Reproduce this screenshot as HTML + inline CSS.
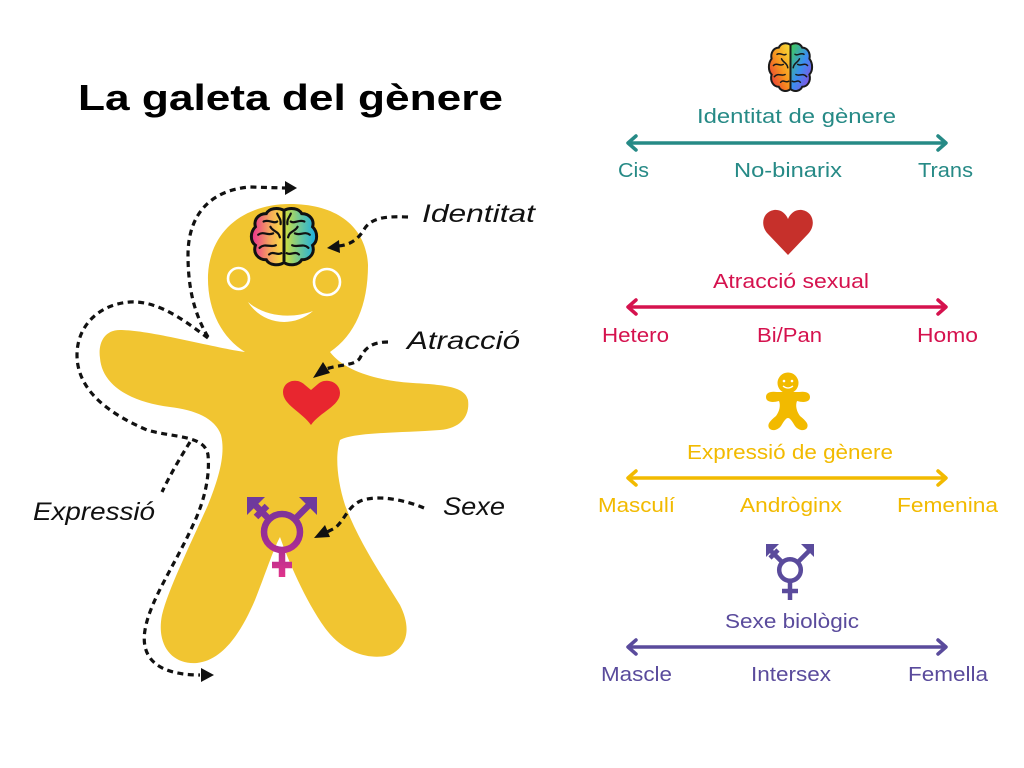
<!DOCTYPE html>
<html><head><meta charset="utf-8"><style>
html,body{margin:0;padding:0;background:#fff;}
svg{display:block;}
text{font-family:"Liberation Sans",sans-serif;}
</style></head><body>
<svg width="1024" height="768" viewBox="0 0 1024 768" xmlns="http://www.w3.org/2000/svg">
<defs>
<linearGradient id="bl" x1="0" y1="0" x2="1" y2="0"><stop offset="0" stop-color="#e92d90"/><stop offset="0.55" stop-color="#f5a45e"/><stop offset="1" stop-color="#f8e43e"/></linearGradient>
<linearGradient id="br" x1="0" y1="0" x2="1" y2="0"><stop offset="0" stop-color="#d2e03c"/><stop offset="0.5" stop-color="#6cc79a"/><stop offset="1" stop-color="#17aee6"/></linearGradient>
<linearGradient id="sl" x1="1" y1="0" x2="0" y2="1"><stop offset="0" stop-color="#f9e33a"/><stop offset="0.5" stop-color="#f7921e"/><stop offset="1" stop-color="#e5203f"/></linearGradient>
<linearGradient id="sr" x1="0" y1="0" x2="1" y2="1"><stop offset="0" stop-color="#3fcf4c"/><stop offset="0.5" stop-color="#3a8ff0"/><stop offset="1" stop-color="#a53ae0"/></linearGradient>
<linearGradient id="tg" gradientUnits="userSpaceOnUse" x1="0" y1="497" x2="0" y2="578"><stop offset="0" stop-color="#6e3a9c"/><stop offset="0.5" stop-color="#9a2c96"/><stop offset="1" stop-color="#e2348a"/></linearGradient>
</defs>

<!-- Title -->
<text x="78" y="110" font-size="36" font-weight="bold" fill="#000" textLength="425" lengthAdjust="spacingAndGlyphs">La galeta del gènere</text>

<!-- Gingerbread body -->
<path fill="#f1c531" d="M 245 352
C 215 348, 150 330, 120 330
C 103 330, 98 345, 100 358
C 102 385, 130 402, 170 407
C 195 410, 215 418, 221 435
C 226 455, 218 480, 208 505
C 190 545, 168 590, 162 615
C 156 645, 172 665, 197 663
C 222 660, 240 635, 255 600
C 265 575, 273 550, 280 537
C 288 560, 305 600, 325 628
C 345 655, 372 660, 390 655
C 410 645, 410 625, 400 605
C 385 580, 360 545, 345 505
C 337 480, 335 455, 340 440
C 355 432, 400 433, 440 430
C 462 428, 470 415, 468 400
C 465 388, 450 385, 413 383
C 380 381, 345 372, 330 352
C 355 335, 368 305, 368 265
C 366 225, 335 204, 290 204
C 245 204, 210 230, 208 275
C 207 310, 222 338, 245 352 Z"/>

<!-- eyes & mouth -->
<circle cx="238.5" cy="278.5" r="10.5" fill="none" stroke="#fff" stroke-width="2.6"/>
<circle cx="327" cy="282" r="13" fill="none" stroke="#fff" stroke-width="2.6"/>
<path d="M 248 302 C 262 324, 292 329, 313 311 C 292 319, 265 317, 248 302 Z" fill="#fff"/>

<!-- body brain -->
<g transform="translate(250,207) scale(0.68,0.66)">
<path d="M50 5 C 40 0, 28 2, 24 10 C 12 10, 5 20, 8 30 C 0 38, 0 52, 8 58 C 4 70, 12 80, 24 80 C 28 88, 42 90, 50 84 Z" fill="url(#bl)" stroke="#111" stroke-width="3" vector-effect="non-scaling-stroke"/>
<path d="M50 5 C 60 0, 72 2, 76 10 C 88 10, 95 20, 92 30 C 100 38, 100 52, 92 58 C 96 70, 88 80, 76 80 C 72 88, 58 90, 50 84 Z" fill="url(#br)" stroke="#111" stroke-width="3" vector-effect="non-scaling-stroke"/>
<g fill="none" stroke="#111" stroke-linecap="round">
<path d="M20 22 C 28 18, 34 26, 40 22" stroke-width="2.2" vector-effect="non-scaling-stroke"/>
<path d="M12 42 C 20 36, 26 44, 34 40" stroke-width="2.2" vector-effect="non-scaling-stroke"/>
<path d="M30 30 C 34 38, 42 36, 44 46" stroke-width="2.2" vector-effect="non-scaling-stroke"/>
<path d="M14 62 C 22 54, 30 62, 38 58" stroke-width="2.2" vector-effect="non-scaling-stroke"/>
<path d="M28 72 C 34 66, 40 74, 46 70" stroke-width="2.2" vector-effect="non-scaling-stroke"/>
<path d="M40 10 C 42 16, 46 18, 45 26" stroke-width="2.2" vector-effect="non-scaling-stroke"/>
<path d="M80 22 C 72 18, 66 26, 60 22" stroke-width="2.2" vector-effect="non-scaling-stroke"/>
<path d="M88 42 C 80 36, 74 44, 66 40" stroke-width="2.2" vector-effect="non-scaling-stroke"/>
<path d="M70 30 C 66 38, 58 36, 56 46" stroke-width="2.2" vector-effect="non-scaling-stroke"/>
<path d="M86 62 C 78 54, 70 62, 62 58" stroke-width="2.2" vector-effect="non-scaling-stroke"/>
<path d="M72 72 C 66 66, 60 74, 54 70" stroke-width="2.2" vector-effect="non-scaling-stroke"/>
<path d="M60 10 C 58 16, 54 18, 55 26" stroke-width="2.2" vector-effect="non-scaling-stroke"/>
</g>
</g>

<!-- body heart -->
<path d="M311 425 C 302 412, 283 405, 283 392 C 283 381, 297 377, 305 385 L 311 390 L 318 384 C 326 377, 340 382, 340 393 C 340 406, 320 412, 311 425 Z" fill="#e8262f"/>

<!-- body trans symbol -->
<g stroke="url(#tg)" fill="none" stroke-width="6.5">
<circle cx="282" cy="532" r="18"/>
<line x1="282" y1="550" x2="282" y2="577"/>
<line x1="272" y1="565" x2="292" y2="565"/>
<line x1="295" y1="519" x2="310" y2="504"/>
<line x1="269" y1="519" x2="254" y2="504"/>
<line x1="256" y1="517" x2="267" y2="506"/>
</g>
<polygon points="317,497 299,497 317,515" fill="#6e3a9c"/>
<polygon points="247,497 265,497 247,515" fill="#6e3a9c"/>

<!-- dashed connectors -->
<g fill="none" stroke="#111" stroke-width="3.2" stroke-dasharray="6 4.5">
<path d="M 208 337 C 195 315, 188 290, 188 255 C 188 215, 210 190, 250 187 L 285 188"/>
<path d="M 208 338 C 190 325, 160 300, 130 302 C 100 304, 77 325, 77 355 C 77 385, 100 410, 147 430 C 175 438, 205 435, 208 455 C 210 475, 205 500, 193 525 C 175 565, 150 600, 145 630 C 140 660, 160 675, 200 675"/>
<path d="M 190 442 C 180 458, 170 475, 162 492"/>
<path d="M 408 217 C 385 216, 372 218, 365 228 C 358 240, 350 245, 338 246"/>
<path d="M 388 342 C 372 342, 365 348, 360 358 C 355 366, 340 364, 326 369"/>
<path d="M 424 508 C 405 500, 380 495, 363 500 C 348 505, 345 520, 335 528 L 327 532"/>
</g>
<g fill="#111">
<polygon points="285,181 297,188 285,195"/>
<polygon points="201,668 214,675 201,682"/>
<polygon points="339,240 327,248 340,253"/>
<polygon points="323,362 313,378 330,373"/>
<polygon points="325,525 314,538 330,537"/>
</g>

<!-- italic labels -->
<g font-style="italic" font-size="25" fill="#111">
<text x="422" y="222" textLength="113" lengthAdjust="spacingAndGlyphs">Identitat</text>
<text x="407" y="349" textLength="113" lengthAdjust="spacingAndGlyphs">Atracció</text>
<text x="443" y="515" textLength="62" lengthAdjust="spacingAndGlyphs">Sexe</text>
<text x="33" y="520" textLength="122" lengthAdjust="spacingAndGlyphs">Expressió</text>
</g>

<!-- small brain icon -->
<g transform="translate(768,42) scale(0.45,0.56)">
<path d="M50 5 C 40 0, 28 2, 24 10 C 12 10, 5 20, 8 30 C 0 38, 0 52, 8 58 C 4 70, 12 80, 24 80 C 28 88, 42 90, 50 84 Z" fill="url(#sl)" stroke="#1a1a1a" stroke-width="2" vector-effect="non-scaling-stroke"/>
<path d="M50 5 C 60 0, 72 2, 76 10 C 88 10, 95 20, 92 30 C 100 38, 100 52, 92 58 C 96 70, 88 80, 76 80 C 72 88, 58 90, 50 84 Z" fill="url(#sr)" stroke="#1a1a1a" stroke-width="2" vector-effect="non-scaling-stroke"/>
<g fill="none" stroke="#1a1a1a" stroke-linecap="round">
<path d="M20 22 C 28 18, 34 26, 40 22" stroke-width="1.5" vector-effect="non-scaling-stroke"/>
<path d="M12 42 C 20 36, 26 44, 34 40" stroke-width="1.5" vector-effect="non-scaling-stroke"/>
<path d="M30 30 C 34 38, 42 36, 44 46" stroke-width="1.5" vector-effect="non-scaling-stroke"/>
<path d="M14 62 C 22 54, 30 62, 38 58" stroke-width="1.5" vector-effect="non-scaling-stroke"/>
<path d="M28 72 C 34 66, 40 74, 46 70" stroke-width="1.5" vector-effect="non-scaling-stroke"/>
<path d="M80 22 C 72 18, 66 26, 60 22" stroke-width="1.5" vector-effect="non-scaling-stroke"/>
<path d="M88 42 C 80 36, 74 44, 66 40" stroke-width="1.5" vector-effect="non-scaling-stroke"/>
<path d="M70 30 C 66 38, 58 36, 56 46" stroke-width="1.5" vector-effect="non-scaling-stroke"/>
<path d="M86 62 C 78 54, 70 62, 62 58" stroke-width="1.5" vector-effect="non-scaling-stroke"/>
<path d="M72 72 C 66 66, 60 74, 54 70" stroke-width="1.5" vector-effect="non-scaling-stroke"/>
</g>
</g>

<!-- Identity scale (teal) -->
<g fill="#268a86">
<text x="697" y="123" font-size="20" textLength="199" lengthAdjust="spacingAndGlyphs">Identitat de gènere</text>
<text x="618" y="177" font-size="20" textLength="31" lengthAdjust="spacingAndGlyphs">Cis</text>
<text x="734" y="177" font-size="20" textLength="108" lengthAdjust="spacingAndGlyphs">No-binarix</text>
<text x="918" y="177" font-size="20" textLength="55" lengthAdjust="spacingAndGlyphs">Trans</text>
</g>
<g stroke="#268a86" stroke-width="3.5" fill="none" stroke-linecap="round" stroke-linejoin="round">
<line x1="629" y1="143" x2="945" y2="143"/>
<polyline points="636,136 628,143 636,150"/>
<polyline points="938,136 946,143 938,150"/>
</g>

<!-- Heart icon -->
<path d="M788 255 L 768 234 C 760 226, 762 212, 774 210 C 781 209, 786 214, 788 219 C 790 214, 795 209, 802 210 C 814 212, 816 226, 808 234 Z" fill="#c6302b"/>

<!-- Attraction scale (crimson) -->
<g fill="#d5124e">
<text x="713" y="288" font-size="20" textLength="156" lengthAdjust="spacingAndGlyphs">Atracció sexual</text>
<text x="602" y="342" font-size="20" textLength="67" lengthAdjust="spacingAndGlyphs">Hetero</text>
<text x="757" y="342" font-size="20" textLength="65" lengthAdjust="spacingAndGlyphs">Bi/Pan</text>
<text x="917" y="342" font-size="20" textLength="61" lengthAdjust="spacingAndGlyphs">Homo</text>
</g>
<g stroke="#d5124e" stroke-width="3.5" fill="none" stroke-linecap="round" stroke-linejoin="round">
<line x1="629" y1="307" x2="945" y2="307"/>
<polyline points="636,300 628,307 636,314"/>
<polyline points="938,300 946,307 938,314"/>
</g>

<!-- Cookie icon -->
<g fill="#f2ba00">
<path d="M 777 392 C 770 391, 766 393, 766 397 C 766 402, 772 403, 779 401 C 781 406, 779 412, 776 416 C 770 421, 767 424, 769 428 C 772 432, 778 430, 781 426 C 784 421, 786 418, 788 418 C 790 418, 792 421, 795 426 C 798 430, 804 432, 807 428 C 809 424, 806 421, 800 416 C 797 412, 795 406, 797 401 C 804 403, 810 402, 810 397 C 810 393, 806 391, 799 392 Z"/>
<circle cx="788" cy="383" r="10.5"/>
</g>
<circle cx="784" cy="381" r="1.3" fill="#fff"/>
<circle cx="792" cy="381" r="1.3" fill="#fff"/>
<path d="M783 386 Q 788 390 793 386" stroke="#fff" stroke-width="1.3" fill="none"/>

<!-- Expression scale (yellow) -->
<g fill="#f2ba00">
<text x="687" y="459" font-size="20" textLength="206" lengthAdjust="spacingAndGlyphs">Expressió de gènere</text>
<text x="598" y="512" font-size="20" textLength="77" lengthAdjust="spacingAndGlyphs">Masculí</text>
<text x="740" y="512" font-size="20" textLength="102" lengthAdjust="spacingAndGlyphs">Andròginx</text>
<text x="897" y="512" font-size="20" textLength="101" lengthAdjust="spacingAndGlyphs">Femenina</text>
</g>
<g stroke="#f2ba00" stroke-width="3.5" fill="none" stroke-linecap="round" stroke-linejoin="round">
<line x1="629" y1="478" x2="945" y2="478"/>
<polyline points="636,471 628,478 636,485"/>
<polyline points="938,471 946,478 938,485"/>
</g>

<!-- small trans symbol -->
<g stroke="#5a4b9c" fill="none" stroke-width="4.5">
<circle cx="790" cy="570" r="10.8"/>
<line x1="790" y1="581" x2="790" y2="600"/>
<line x1="782" y1="591" x2="798" y2="591"/>
<line x1="798" y1="562" x2="810" y2="550"/>
<line x1="782" y1="562" x2="770" y2="550"/>
<line x1="770" y1="558" x2="778" y2="550"/>
</g>
<polygon points="814,544 801,544 814,557" fill="#5a4b9c"/>
<polygon points="766,544 779,544 766,557" fill="#5a4b9c"/>

<!-- Sex scale (purple) -->
<g fill="#5a4b9c">
<text x="725" y="628" font-size="20" textLength="134" lengthAdjust="spacingAndGlyphs">Sexe biològic</text>
<text x="601" y="681" font-size="20" textLength="71" lengthAdjust="spacingAndGlyphs">Mascle</text>
<text x="751" y="681" font-size="20" textLength="80" lengthAdjust="spacingAndGlyphs">Intersex</text>
<text x="908" y="681" font-size="20" textLength="80" lengthAdjust="spacingAndGlyphs">Femella</text>
</g>
<g stroke="#5a4b9c" stroke-width="3.5" fill="none" stroke-linecap="round" stroke-linejoin="round">
<line x1="629" y1="647" x2="945" y2="647"/>
<polyline points="636,640 628,647 636,654"/>
<polyline points="938,640 946,647 938,654"/>
</g>
</svg>
</body></html>
